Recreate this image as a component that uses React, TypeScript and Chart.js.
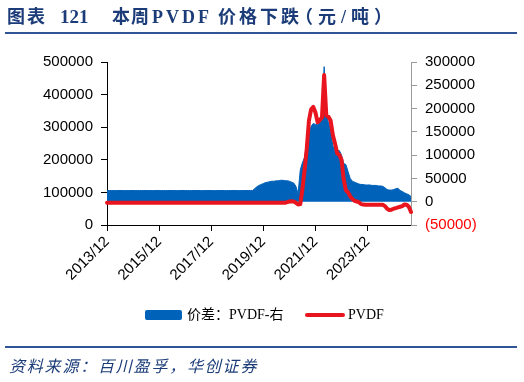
import React, { useEffect, useRef } from "react";
import { Chart, registerables } from "chart.js";

Chart.register(...registerables);

// Monthly categories 2013/12 .. 2025/08
const MONTHS: string[] = [];
for (let i = 0; i < 141; i++) {
  const m = ((11 + i) % 12) + 1;
  const y = 2013 + Math.floor((11 + i) / 12);
  MONTHS.push(`${y}/${String(m).padStart(2, "0")}`);
}

const X_TICK_LABELS = ["2013/12", "2015/12", "2017/12", "2019/12", "2021/12", "2023/12"];

// 价差：PVDF (right axis, 元/吨)
const SPREAD: number[] = [
  24000, 24000, 24000, 24000, 24000, 24000, 24000, 24000, 24000, 24000, 24000, 24000,
  24000, 24000, 24000, 24000, 24000, 24000, 24000, 24000, 24000, 24000, 24000, 24000,
  24000, 24000, 24000, 24000, 24000, 24000, 24000, 24000, 24000, 24000, 24000, 24000,
  24000, 24000, 24000, 24000, 24000, 24000, 24000, 24000, 24000, 24000, 24000, 24000,
  24000, 24000, 24000, 24000, 24000, 24000, 24000, 24000, 24000, 24000, 24000, 24000,
  24000, 24000, 24000, 24000, 24000, 24000, 24000, 24000,
  28000, 32000, 35000, 37000,
  39000, 41000, 42000, 43000, 44000, 44000, 45000, 45000, 46000, 46000, 45000, 45000,
  44000, 42000, 40000, 33000, 17000, 68000, 84000, 95000, 125000, 145000, 162000, 168000,
  166000, 165000, 170000, 175000, 290000, 185000, 170000, 150000, 120000, 108000, 110000, 110000,
  100000, 82000, 80000, 65000, 50000, 44000, 42000, 40000, 38000, 37000, 37000, 36000,
  36000, 36000, 35000, 35000, 35000, 34000, 34000, 33000, 30000, 26000, 25000, 25000,
  26000, 28000, 29000, 24000, 22000, 19000, 17000, 15000, 11000,
];

// PVDF price (left axis, 元/吨)
const PVDF: number[] = [
  68000, 68000, 68000, 68000, 68000, 68000, 68000, 68000, 68000, 68000, 68000, 68000,
  68000, 68000, 68000, 68000, 68000, 68000, 68000, 68000, 68000, 68000, 68000, 68000,
  68000, 68000, 68000, 68000, 68000, 68000, 68000, 68000, 68000, 68000, 68000, 68000,
  68000, 68000, 68000, 68000, 68000, 68000, 68000, 68000, 68000, 68000, 68000, 68000,
  68000, 68000, 68000, 68000, 68000, 68000, 68000, 68000, 68000, 68000, 68000, 68000,
  68000, 68000, 68000, 68000, 68000, 68000, 68000, 68000, 68000, 68000, 68000, 68000,
  68000, 68000, 68000, 68000, 68000, 68000, 68000, 68000, 68000, 68000, 68000, 70000,
  72000, 73000, 72000, 68000, 63000, 64000, 110000, 170000, 235000, 320000, 355000, 362000,
  345000, 315000, 322000, 330000, 460000, 335000, 332000, 320000, 276000, 250000, 220000, 215000,
  200000, 140000, 107000, 100000, 88000, 80000, 74000, 72000, 70000, 64000, 63000, 62000,
  62000, 62000, 62000, 62000, 62000, 62000, 62000, 62000, 58000, 50000, 46000, 47000,
  50000, 52000, 54000, 56000, 58000, 63000, 62000, 56000, 40000,
];

const LEFT_MIN = 0, LEFT_MAX = 500000, LEFT_STEP = 100000;
const RIGHT_MIN = -50000, RIGHT_MAX = 300000, RIGHT_STEP = 50000;

const SERIES_NAMES = ["价差：PVDF-右", "PVDF"];
const SOURCE_TEXT = "资料来源：百川盈孚，华创证券";

const BLUE = "#0062B8";
const RED = "#E8141E";
const NAVY = "#1B3C78";
const TICK_FONT = { family: "'Liberation Sans', Arial, sans-serif", size: 15 };
const SERIF = "'Liberation Serif', 'Times New Roman', 'Noto Sans CJK SC', serif";

export default function App() {
  const ref = useRef<HTMLCanvasElement | null>(null);

  useEffect(() => {
    if (!ref.current) return;
    const chart = new Chart(ref.current, {
      type: "line",
      data: {
        labels: MONTHS,
        datasets: [
          {
            label: SERIES_NAMES[0],
            data: SPREAD,
            yAxisID: "yR",
            borderColor: BLUE,
            backgroundColor: BLUE,
            borderWidth: 1,
            fill: "origin",
            pointRadius: 0,
            tension: 0,
            order: 1,
          },
          {
            label: SERIES_NAMES[1],
            data: PVDF,
            yAxisID: "yL",
            borderColor: RED,
            backgroundColor: RED,
            borderWidth: 4,
            fill: false,
            pointRadius: 0,
            tension: 0,
            borderJoinStyle: "round",
            borderCapStyle: "round",
            order: 0,
          },
        ],
      },
      options: {
        responsive: false,
        animation: false,
        layout: { padding: { left: 0, right: 0, top: 62, bottom: 97 } },
        plugins: { legend: { display: false }, tooltip: { enabled: false }, title: { display: false } },
        scales: {
          x: {
            type: "category",
            offset: false,
            grid: { display: true, drawOnChartArea: false, drawTicks: true, tickLength: 6, color: "#000" },
            border: { display: true, color: "#000", width: 1 },
            ticks: {
              autoSkip: false,
              minRotation: 45,
              maxRotation: 45,
              color: "#000",
              font: TICK_FONT,
              padding: 2,
            },
            afterBuildTicks: (scale: any) => {
              scale.ticks = MONTHS.map((_, i) => ({ value: i })).filter((t) =>
                X_TICK_LABELS.includes(MONTHS[t.value])
              );
            },
            afterFit: (scale: any) => {
              scale.height = 60;
            },
          },
          yL: {
            type: "linear",
            position: "left",
            min: LEFT_MIN,
            max: LEFT_MAX,
            grid: { display: true, drawOnChartArea: false, drawTicks: true, tickLength: 6, color: "#000" },
            border: { display: true, color: "#000", width: 1 },
            ticks: { stepSize: LEFT_STEP, color: "#000", font: TICK_FONT, padding: 8, callback: (v: any) => String(v) },
            afterFit: (scale: any) => {
              scale.width = 107;
            },
          },
          yR: {
            type: "linear",
            position: "right",
            min: RIGHT_MIN,
            max: RIGHT_MAX,
            grid: { display: true, drawOnChartArea: false, drawTicks: true, tickLength: 6, color: "#9a9a9a" },
            border: { display: true, color: "#9a9a9a", width: 1 },
            ticks: {
              stepSize: RIGHT_STEP,
              font: TICK_FONT,
              padding: 8,
              color: (ctx: any) => (ctx.tick && ctx.tick.value < 0 ? "#FF0000" : "#000"),
              callback: (v: any) => (v < 0 ? `(${-v})` : String(v)),
            },
            afterFit: (scale: any) => {
              scale.width = 113;
            },
          },
        },
      },
    } as any);
    return () => chart.destroy();
  }, []);

  const abs = (s: React.CSSProperties): React.CSSProperties => ({ position: "absolute", whiteSpace: "nowrap", ...s });
  const titleStyle = (left: number, size: number, spacing: number): React.CSSProperties =>
    abs({ left, top: 6, fontFamily: SERIF, fontWeight: 700, fontSize: size, letterSpacing: spacing, lineHeight: "22px", color: NAVY });

  return (
    <div style={{ position: "absolute", left: 0, top: 0, width: 524, height: 382, background: "#fff", overflow: "hidden" }}>
      <canvas ref={ref} width={524} height={382} style={{ position: "absolute", left: 0, top: 0, width: 524, height: 382 }} />
      {/* Title */}
      <div style={titleStyle(7, 18, 2)}>图表</div>
      <div style={titleStyle(60, 19, 0)}>121</div>
      <div style={titleStyle(112, 18, 1)}>本周</div>
      <div style={titleStyle(152, 18, 3)}>PVDF</div>
      <div style={titleStyle(218, 18, 3)}>价格下跌</div>
      <div style={titleStyle(295, 18, 5)}>（元/吨）</div>
      <div style={abs({ left: 5, top: 32, width: 512, height: 2, background: "#2F5597" })} />
      {/* Legend */}
      <div style={abs({ left: 145, top: 310, width: 37, height: 10, background: BLUE, borderRadius: 2 })} />
      <div style={abs({ left: 187, top: 305, fontFamily: SERIF, fontSize: 14, lineHeight: "20px", color: "#000" })}>
        {SERIES_NAMES[0]}
      </div>
      <div style={abs({ left: 305, top: 313, width: 40, height: 4, background: RED, borderRadius: 2 })} />
      <div style={abs({ left: 348, top: 305, fontFamily: SERIF, fontSize: 14, lineHeight: "20px", color: "#000" })}>
        {SERIES_NAMES[1]}
      </div>
      {/* Footer */}
      <div style={abs({ left: 5, top: 346, width: 512, height: 2, background: "#2F5597" })} />
      <div style={abs({ left: 9, top: 356, fontFamily: SERIF, fontStyle: "italic", fontSize: 16, letterSpacing: 1.8, lineHeight: "22px", color: NAVY })}>
        {SOURCE_TEXT}
      </div>
    </div>
  );
}
